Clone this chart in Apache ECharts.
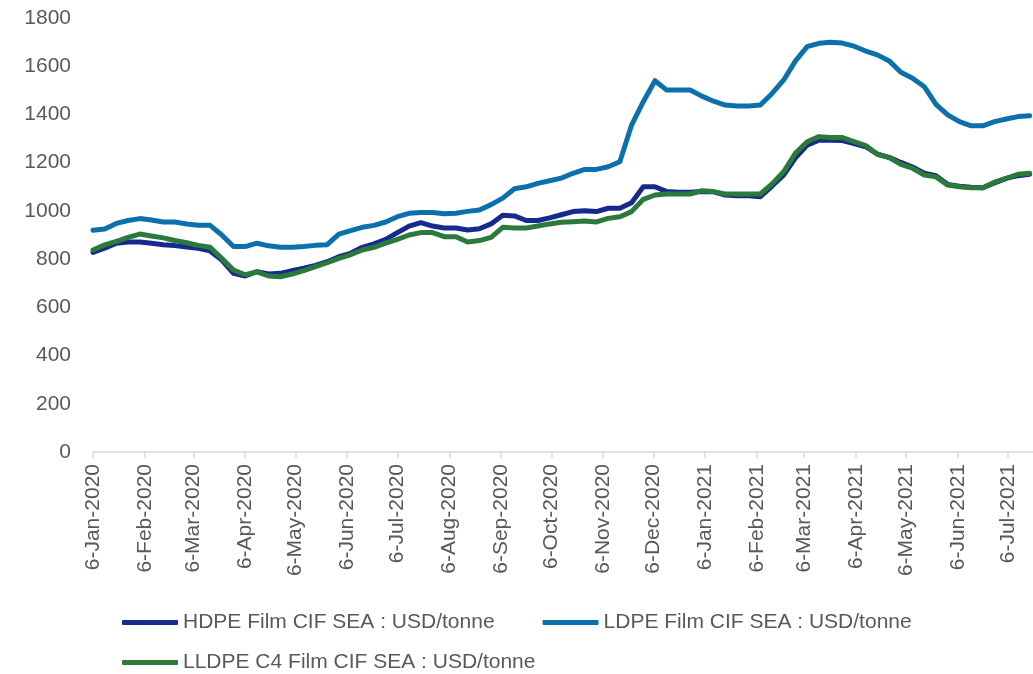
<!DOCTYPE html>
<html>
<head>
<meta charset="utf-8">
<script src="https://cdn.jsdelivr.net/npm/echarts@6/dist/echarts.min.js"></script>
<style>
  html, body { margin: 0; padding: 0; background: #fff; }
  #main { width: 1033px; height: 674px; }
</style>
</head>
<body>
<div id="main"></div>
<script>
// weekly prices, first week 6-Jan-2020
var startDate = '2020-01-06';
var weekCount = 81;

var seriesNames = [
    'HDPE Film CIF SEA : USD/tonne',
    'LDPE Film CIF SEA : USD/tonne',
    'LLDPE C4 Film CIF SEA : USD/tonne'
];

var hdpe = [
    828, 845, 866, 871, 871, 866, 860, 856, 850, 845,
    834, 796, 741, 730, 748, 738, 741, 752, 762, 774,
    789, 810, 824, 849, 863, 882, 910, 937, 951, 937,
    929, 929, 921, 926, 946, 982, 979, 960, 960, 971,
    984, 997, 1001, 997, 1011, 1011, 1034, 1100, 1100, 1080,
    1077, 1077, 1080, 1079, 1066, 1063, 1063, 1059, 1103, 1149,
    1220, 1273, 1293, 1293, 1292, 1279, 1266, 1235, 1222, 1201,
    1182, 1156, 1146, 1110, 1102, 1098, 1096, 1116, 1135, 1146,
    1152
];

var ldpe = [
    920, 925, 948, 960, 968, 962, 954, 954, 946, 940,
    940, 900, 852, 852, 866, 855, 849, 849, 852, 857,
    860, 904, 918, 932, 940, 954, 976, 990, 993, 993,
    988, 990, 998, 1004, 1026, 1053, 1092, 1100, 1114, 1125,
    1136, 1156, 1172, 1172, 1183, 1204, 1356, 1453, 1540, 1501,
    1501, 1501, 1476, 1455, 1439, 1435, 1435, 1439, 1487, 1543,
    1622, 1681, 1695, 1699, 1696, 1683, 1663, 1647, 1622, 1575,
    1550, 1515, 1442, 1398, 1370, 1353, 1353, 1370, 1381, 1391,
    1395
];

var lldpe = [
    838, 859, 874, 890, 904, 896, 888, 877, 868, 857,
    849, 803, 755, 735, 747, 730, 727, 738, 752, 769,
    785, 803, 818, 838, 849, 866, 882, 900, 910, 910,
    893, 893, 871, 877, 890, 932, 929, 929, 937, 946,
    953, 955, 958, 954, 969, 976, 997, 1048, 1066, 1070,
    1070, 1070, 1084, 1080, 1070, 1070, 1070, 1070, 1112, 1163,
    1240, 1287, 1308, 1304, 1304, 1287, 1271, 1235, 1221, 1193,
    1177, 1149, 1141, 1107, 1100, 1096, 1096, 1119, 1135, 1152,
    1156
];

var monthNames = ['Jan', 'Feb', 'Mar', 'Apr', 'May', 'Jun', 'Jul', 'Aug', 'Sep', 'Oct', 'Nov', 'Dec'];

// tick labels: the 6th of every month
var tickDates = [
    '2020-01-06', '2020-02-06', '2020-03-06', '2020-04-06', '2020-05-06', '2020-06-06',
    '2020-07-06', '2020-08-06', '2020-09-06', '2020-10-06', '2020-11-06', '2020-12-06',
    '2021-01-06', '2021-02-06', '2021-03-06', '2021-04-06', '2021-05-06', '2021-06-06',
    '2021-07-06'
];

var colors = ['#162a8e', '#0c70ab', '#2b7a3b'];

var DAY = 86400000;

function toTime(s) {
    var p = s.split('-');
    return Date.UTC(+p[0], +p[1] - 1, +p[2]);
}

// x is counted in days from the first week
var t0 = toTime(startDate);
function toDay(s) {
    return (toTime(s) - t0) / DAY;
}

function pairUp(values) {
    var out = [];
    for (var i = 0; i < values.length; i++) {
        out.push([i * 7, values[i]]);
    }
    return out;
}

var tickDays = tickDates.map(toDay);

var myChart = echarts.init(document.getElementById('main'));

var lineSeries = [hdpe, ldpe, lldpe].map(function (vals, k) {
    return {
        name: seriesNames[k],
        type: 'line',
        data: pairUp(vals),
        showSymbol: false,
        symbol: 'none',
        lineStyle: { width: 5, color: colors[k], join: 'round', cap: 'round' },
        itemStyle: { color: colors[k] },
        animation: false
    };
});

var legendText = { fontSize: 21, color: '#595959', fontFamily: 'Liberation Sans, Arial, sans-serif' };

var option = {
    animation: false,
    textStyle: { fontFamily: 'Liberation Sans, Arial, sans-serif' },
    grid: { left: 93, right: 0, top: 18, bottom: 222, containLabel: false },
    legend: [
        {
            data: [seriesNames[0], seriesNames[1]],
            left: 117, top: 607,
            icon: 'roundRect', itemWidth: 56, itemHeight: 5,
            itemGap: 48, textStyle: legendText,
            selectedMode: false
        },
        {
            data: [seriesNames[2]],
            left: 117, top: 647,
            icon: 'roundRect', itemWidth: 56, itemHeight: 5,
            textStyle: legendText,
            selectedMode: false
        }
    ],
    xAxis: {
        type: 'value',
        min: 0,
        max: toDay('2021-07-21'),
        axisLine: { show: true, lineStyle: { color: '#d9d9d9', width: 1.5 } },
        axisTick: { show: true, customValues: tickDays, length: 6, lineStyle: { color: '#d9d9d9', width: 1.5 } },
        axisLabel: {
            customValues: tickDays,
            rotate: 90,
            margin: 12,
            fontSize: 21,
            color: '#595959',
            showMinLabel: true,
            formatter: function (v) {
                var d = new Date(t0 + v * DAY);
                return d.getUTCDate() + '-' + monthNames[d.getUTCMonth()] + '-' + d.getUTCFullYear();
            }
        },
        splitLine: { show: false }
    },
    yAxis: {
        type: 'value',
        min: 0, max: 1800, interval: 200,
        axisLine: { show: false },
        axisTick: { show: false },
        splitLine: { show: false },
        axisLabel: {
            fontSize: 21, color: '#595959', margin: 22,
            formatter: function (v) { return String(v); }
        }
    },
    series: lineSeries
};

myChart.setOption(option);
</script>
</body>
</html>
